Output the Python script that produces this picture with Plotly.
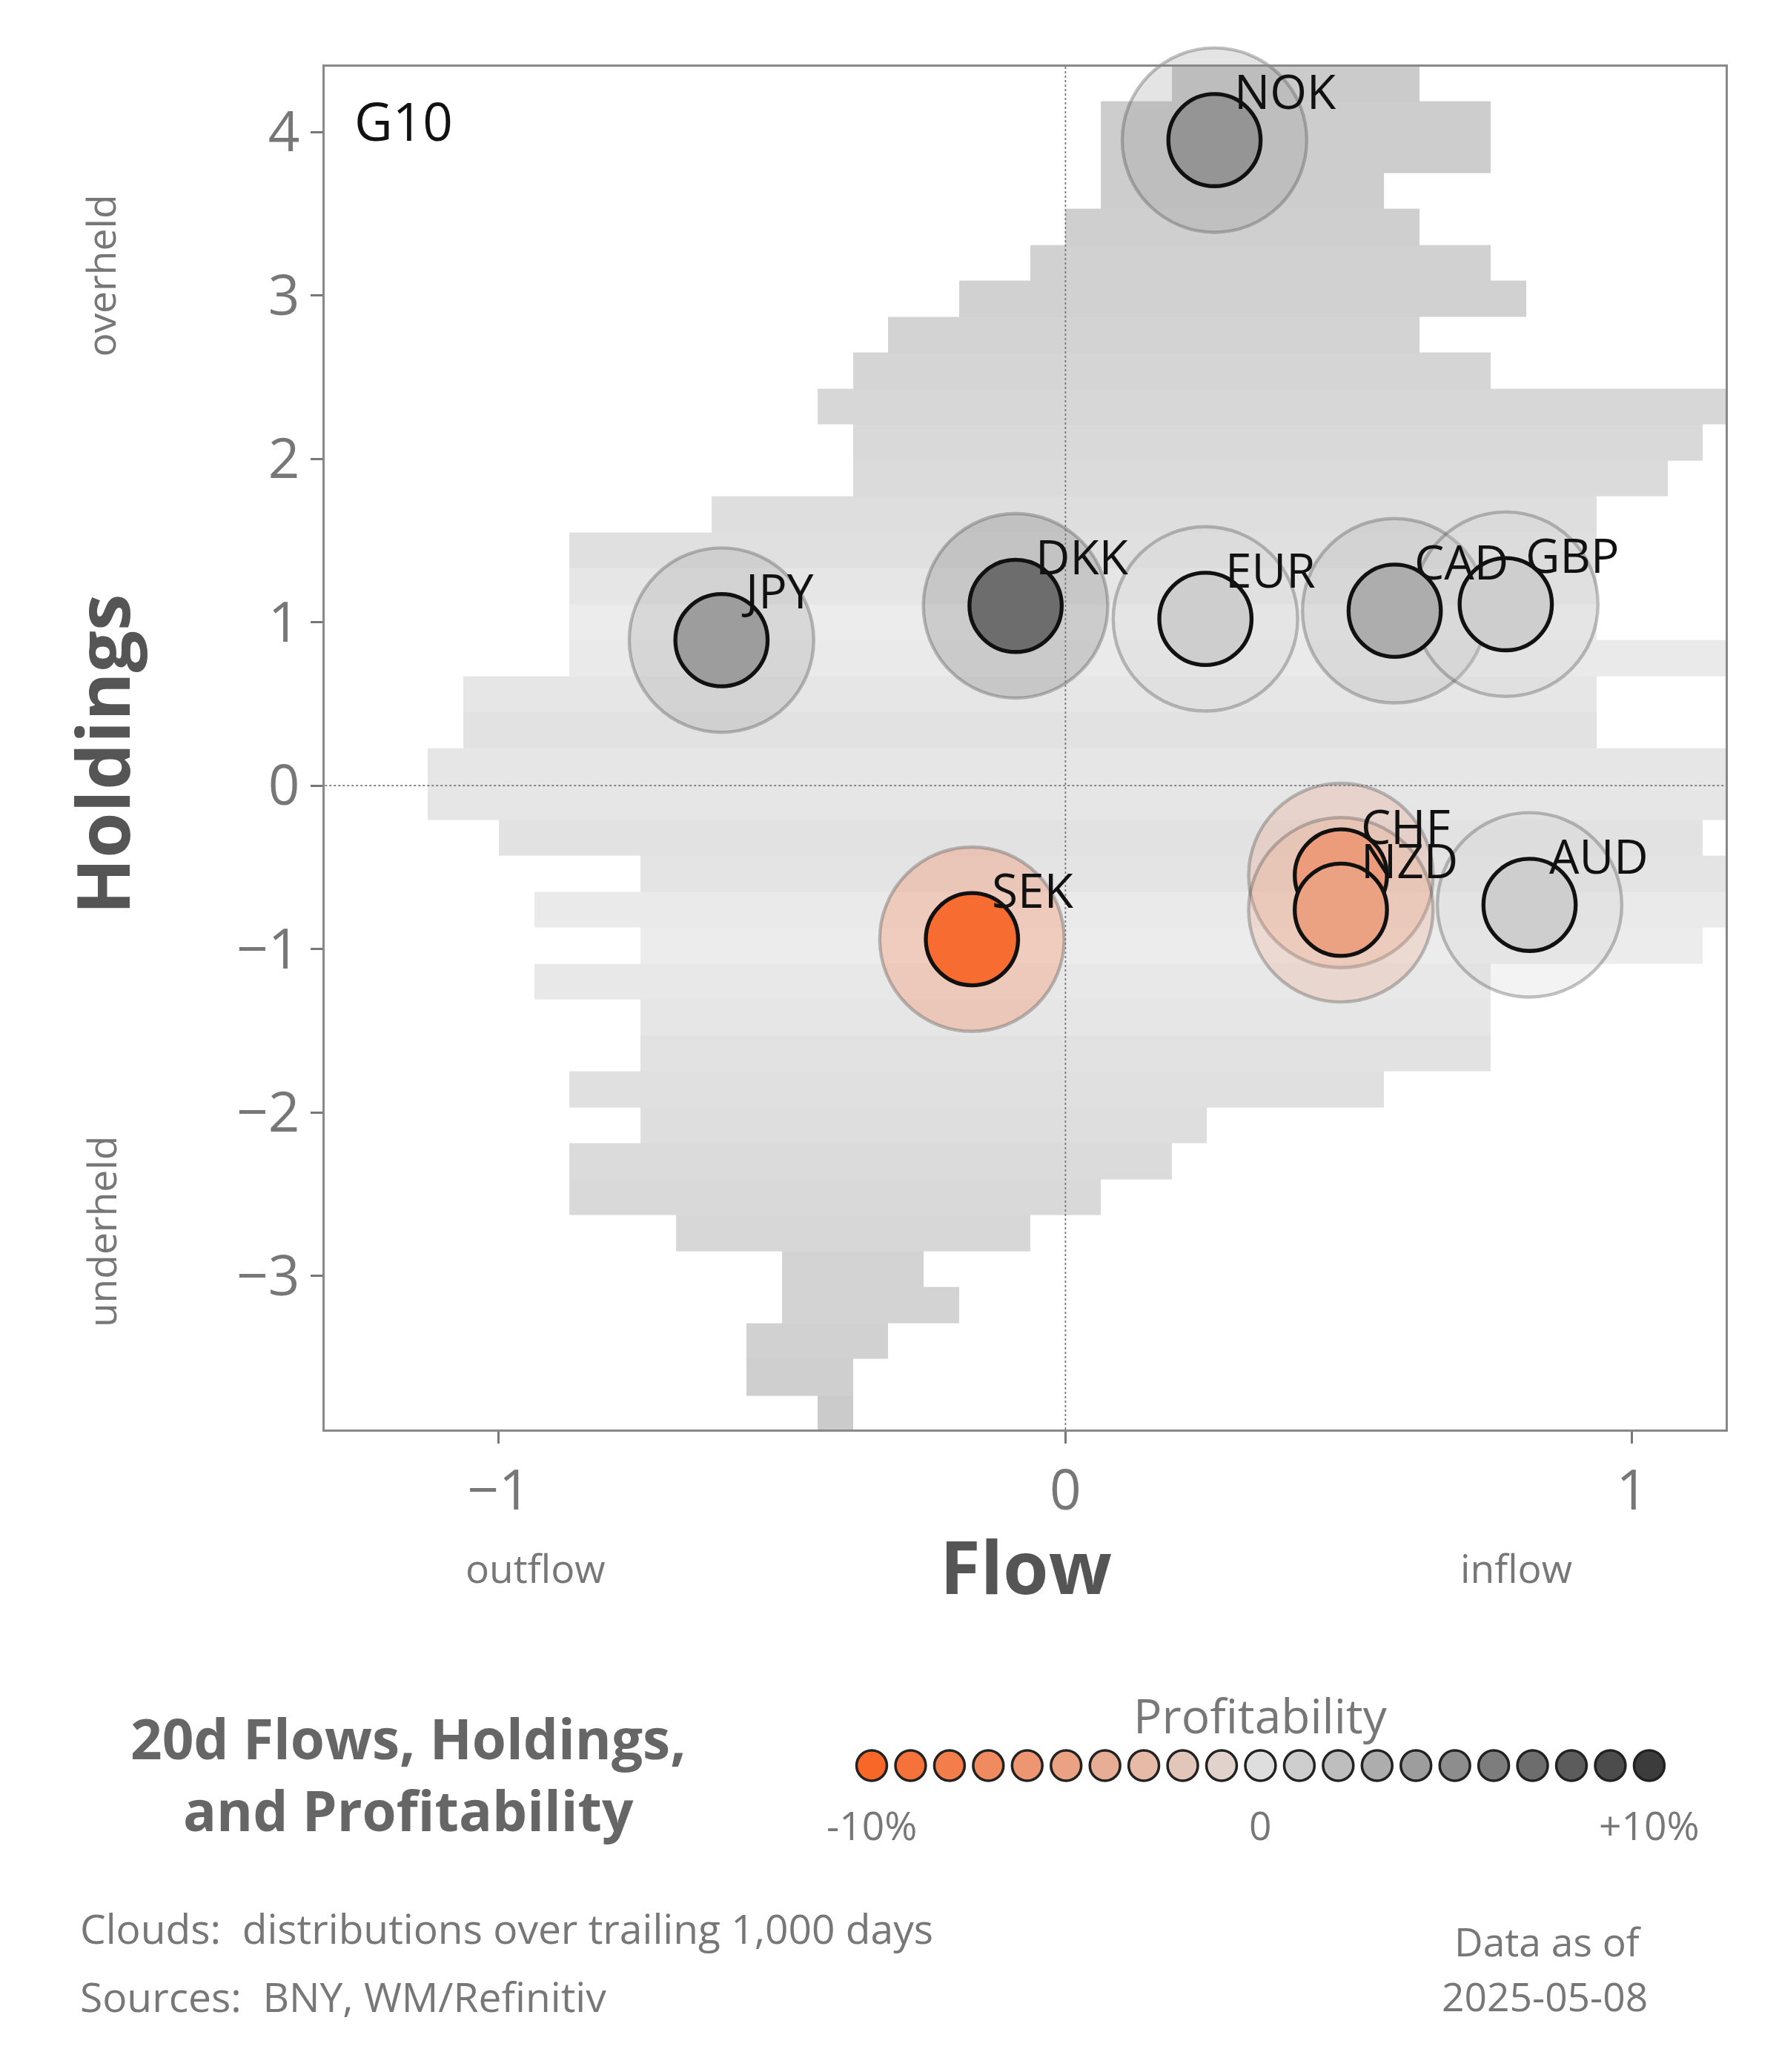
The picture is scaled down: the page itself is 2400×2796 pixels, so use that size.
import numpy as np
import plotly.graph_objects as go

# =========================================================
# DATA
# =========================================================
currencies = ["NOK", "JPY", "DKK", "EUR", "CAD", "GBP", "CHF", "NZD", "AUD", "SEK"]
flow = [0.263, -0.607, -0.088, 0.247, 0.581, 0.777, 0.486, 0.486, 0.819, -0.165]
holdings = [3.95, 0.89, 1.10, 1.02, 1.07, 1.11, -0.55, -0.76, -0.73, -0.94]
profit = [4.5, 4.0, 7.0, 1.0, 3.0, 1.0, -5.5, -5.0, 1.0, -9.5]

# cloud: per row centre, left/right flow extent, shade (0 dark .. 1 light)
cloud_y = [-3.85, -3.62, -3.40, -3.18, -2.96, -2.74, -2.52, -2.30, -2.08, -1.86,
           -1.64, -1.42, -1.20, -0.98, -0.76, -0.54, -0.32, -0.10, 0.12, 0.34,
           0.56, 0.78, 1.00, 1.22, 1.44, 1.66, 1.88, 2.10, 2.32, 2.54,
           2.76, 2.98, 3.20, 3.42, 3.64, 3.86, 4.08, 4.30]
cloud_left = [-0.44, -0.56, -0.56, -0.50, -0.50, -0.68, -0.87, -0.87, -0.75, -0.87,
              -0.75, -0.75, -0.94, -0.75, -0.94, -0.75, -1.00, -1.13, -1.13, -1.06,
              -1.06, -0.87, -0.87, -0.87, -0.87, -0.61, -0.38, -0.38, -0.44, -0.38,
              -0.32, -0.20, -0.07, -0.01, 0.06, 0.06, 0.06, 0.22]
cloud_right = [-0.38, -0.38, -0.32, -0.20, -0.27, -0.07, 0.05, 0.18, 0.23, 0.54,
               0.73, 0.73, 0.73, 1.10, 1.17, 1.17, 1.10, 1.17, 1.17, 0.92,
               0.92, 1.17, 0.92, 0.92, 0.92, 0.92, 1.04, 1.10, 1.17, 0.73,
               0.61, 0.79, 0.73, 0.61, 0.55, 0.73, 0.73, 0.61]
cloud_shade = [0.05, 0.15, 0.2, 0.25, 0.25, 0.35, 0.4, 0.45, 0.5, 0.55,
               0.6, 0.7, 0.75, 0.85, 0.8, 0.65, 0.6, 0.7, 0.7, 0.6,
               0.7, 0.8, 0.85, 0.7, 0.55, 0.5, 0.45, 0.4, 0.35, 0.3,
               0.25, 0.2, 0.2, 0.15, 0.1, 0.1, 0.1, 0.05]

legend_steps = list(range(-10, 11))

# =========================================================
# HELPERS
# =========================================================
W, H = 1350, 1572  # design units (figure is 2400 x 2796)
S = 2400 / W


def px(v):
    return v * S


def pp(x, y):
    return x / W, 1 - y / H


stops = [(-10, (248, 102, 40)), (0, (222, 222, 222)), (10, (60, 60, 60))]


def pcolor(v, a=1.0):
    v = max(-10, min(10, v))
    (x0, c0), (x1, c1) = (stops[0], stops[1]) if v <= 0 else (stops[1], stops[2])
    t = (v - x0) / (x1 - x0)
    c = [round(c0[i] + (c1[i] - c0[i]) * t) for i in range(3)]
    return f"rgba({c[0]},{c[1]},{c[2]},{a})"


font = "Open Sans"
grey = "#777777"

# cloud grid
xc = np.arange(-1.28125, 1.2, 0.0625)
z = []
for yv, l, r, s in zip(cloud_y, cloud_left, cloud_right, cloud_shade):
    z.append([s if l - 0.01 <= x <= r + 0.01 else None for x in xc])

fig = go.Figure()
fig.add_trace(go.Heatmap(
    x=xc, y=cloud_y, z=z, zmin=0, zmax=1, showscale=False, hoverinfo="skip",
    colorscale=[[0, "#c9c9c9"], [1, "#f2f2f2"]],
))

# halos
fig.add_trace(go.Scatter(
    x=flow, y=holdings, mode="markers", hoverinfo="skip", cliponaxis=False,
    marker=dict(size=px(140), color=[pcolor(p, 0.25) for p in profit],
                line=dict(color="rgba(80,80,80,0.35)", width=px(2.5))),
))
# cores
fig.add_trace(go.Scatter(
    x=flow, y=holdings, mode="markers", cliponaxis=False, text=currencies,
    marker=dict(size=px(70), color=[pcolor(p) for p in profit],
                line=dict(color="#111111", width=px(3))),
))

# legend dots
fig.add_trace(go.Scatter(
    x=legend_steps, y=[0] * len(legend_steps), xaxis="x2", yaxis="y2",
    mode="markers", cliponaxis=False, hoverinfo="skip",
    marker=dict(size=px(23), color=[pcolor(v) for v in legend_steps],
                line=dict(color="#222222", width=px(2))),
))

annotations = []
for c, fx, hy in zip(currencies, flow, holdings):
    annotations.append(dict(x=fx, y=hy, xref="x", yref="y", text=c, showarrow=False,
                            xanchor="left", yanchor="bottom", xshift=px(14), yshift=px(12),
                            font=dict(size=px(36), color="#111111", family=font)))


def note(x, y, text, size, color=grey, anchor="center", angle=0, bold=False):
    ax, ay = pp(x, y)
    if bold:
        text = f"<b>{text}</b>"
    annotations.append(dict(x=ax, y=ay, xref="paper", yref="paper", text=text,
                            showarrow=False, xanchor=anchor, yanchor="middle",
                            textangle=angle, align="center",
                            font=dict(size=px(size), color=color, family=font)))


note(263, 87, "G10", 40, color="#111111", anchor="left")
note(72, 205, "overheld", 30, angle=-90)
note(72, 930, "underheld", 30, angle=-90)
note(72, 568, "Holdings", 56, color="#555555", angle=-90, bold=True)
note(774, 1183, "Flow", 56, color="#555555", bold=True)
note(402, 1185, "outflow", 30)
note(1146, 1185, "inflow", 30)
note(305, 1341, "20d Flows, Holdings,<br>and Profitability", 42, color="#666666", bold=True)
note(952, 1297, "Profitability", 36)
note(657, 1380, "-10%", 30)
note(952, 1380, "0", 30)
note(1247, 1380, "+10%", 30)
note(55, 1458, "Clouds:  distributions over trailing 1,000 days", 31, anchor="left")
note(55, 1510, "Sources:  BNY, WM/Refinitiv", 31, anchor="left")
note(1170, 1468, "Data as of", 30)
note(1168, 1510, "2025-05-08", 30)

axis_common = dict(showgrid=False, zeroline=False, showline=True, mirror=True,
                   linecolor="#888888", linewidth=px(1.5), ticks="outside",
                   ticklen=px(9), tickwidth=px(1.5), tickcolor=grey,
                   tickfont=dict(size=px(42), color=grey, family=font))

fig.update_layout(
    width=2400, height=2796,
    margin=dict(l=0, r=0, t=0, b=0),
    paper_bgcolor="white", plot_bgcolor="white",
    showlegend=False,
    xaxis=dict(domain=[242 / W, 1305 / W], range=[-1.307, 1.165],
               tickvals=[-1, 0, 1], **axis_common),
    yaxis=dict(domain=[1 - 1080 / H, 1 - 46 / H], range=[-3.94, 4.40],
               tickvals=[-3, -2, -1, 0, 1, 2, 3, 4], **axis_common),
    xaxis2=dict(domain=[657 / W, 1247 / W], range=[-10, 10], visible=False, anchor="y2"),
    yaxis2=dict(domain=[1 - 1355 / H, 1 - 1315 / H], range=[-1, 1], visible=False, anchor="x2"),
    annotations=annotations,
    shapes=[
        dict(type="line", xref="x", yref="y", x0=0, x1=0, y0=-3.94, y1=4.40,
             line=dict(color="#777777", width=px(1), dash="dot")),
        dict(type="line", xref="x", yref="y", x0=-1.307, x1=1.165, y0=0, y1=0,
             line=dict(color="#777777", width=px(1), dash="dot")),
    ],
)

fig.write_html("out.html")
